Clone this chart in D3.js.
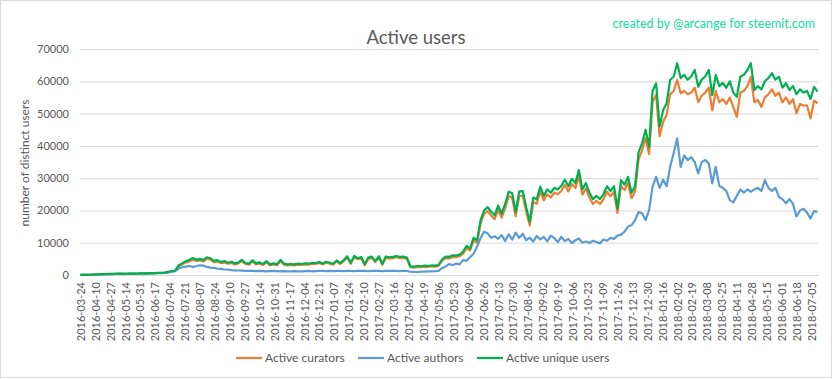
<!DOCTYPE html>
<html><head><meta charset="utf-8">
<script src="https://cdn.jsdelivr.net/npm/d3@7"></script>
<style>body{margin:0;background:#fff;} svg{display:block;font-family:Lato,"Open Sans",sans-serif;}</style>
</head><body><svg id="c" width="833" height="379"></svg>
<script>
// Daily data sampled every 4 days starting 2016-03-24
const startDate = "2016-03-24";
const stepDays = 4;
const seriesNames = ["Active curators", "Active authors", "Active unique users"];
const curators = [15,30,50,70,130,180,220,270,310,290,340,360,380,330,390,420,380,450,470,490,520,570,620,660,700,900,1100,1300,
2700,3300,3900,4200,4800,4300,4600,4200,5000,4800,4000,4200,3700,3900,3500,3700,3300,3600,4300,3400,3200,4200,3300,3600,3100,3900,3000,3300,3000,4300,3200,3000,3100,3000,3200,3100,3300,3200,3500,3400,3700,3300,3800,3500,3200,4200,3400,4300,5400,3500,5500,4900,5200,3000,5000,5300,4000,5400,3200,5300,5100,5200,5500,5200,5300,5000,
2400,2300,2500,2400,2600,2500,2700,2600,2800,
4400,5200,5100,5600,5500,5800,6600,8300,7600,10700,10000,16000,18900,19800,18400,17300,20200,17800,20700,24400,23900,18200,24400,24600,19700,15300,22600,22100,25900,23100,25000,24000,25500,25000,26000,27900,25900,28200,26900,30700,24900,26800,24000,22000,23000,22000,23400,25800,24400,25800,19200,27600,26300,28600,23800,25800,35800,38500,42500,37500,53500,55800,43000,47500,49500,56000,57000,60400,56300,57000,56000,56500,58000,53500,55500,56500,58000,51000,57000,53500,54500,53000,55000,52000,49000,56500,57000,58500,61400,53500,54200,52100,55000,56000,57500,55500,56500,53500,55000,53000,54500,50100,53000,52500,52500,48500,54000,53200];
const authors = [20,40,60,80,140,180,220,260,300,280,320,340,300,350,370,340,380,400,420,440,480,500,550,600,650,800,1000,1200,
2000,2400,2600,2800,2500,2700,3000,2900,2500,2300,2200,2000,1900,1700,1650,1500,1450,1400,1350,1300,1250,1300,1200,1250,1200,1150,1200,1250,1200,1150,1200,1100,1150,1200,1100,1150,1200,1250,1150,1200,1250,1300,1200,1250,1200,1300,1250,1200,1300,1250,1200,1300,1250,1300,1200,1250,1300,1250,1200,1300,1250,1300,1250,1200,1300,1250,
1000,950,900,1000,1050,1100,1150,1200,1300,
2100,2600,3400,3100,3500,3300,4600,4400,5500,6600,8800,11400,13400,12900,11500,12000,11200,12400,10500,12600,11000,13100,11500,12800,10800,11600,10300,12100,11000,11800,10400,12200,11400,10200,11800,10500,11200,9900,10800,11300,10000,10400,9900,10600,10200,9800,11000,10600,11500,11200,12200,12500,13400,15000,15400,17000,19500,19100,17000,20000,27400,30400,27000,29500,27500,33500,37800,42300,33500,37000,35600,36500,35000,31500,35000,35600,34500,28400,33500,27600,27000,26000,23200,22500,24500,26500,25500,26500,25800,26500,27000,26000,29400,27000,26000,27000,24200,23500,22200,23500,22000,18100,20000,20500,19300,17500,19800,19500];
const uniqueUsers = [20,40,60,80,150,200,250,300,350,320,380,400,420,380,420,450,400,480,500,520,550,600,650,700,750,950,1150,1400,
3000,3600,4300,4600,5300,4700,5000,4600,5500,5200,4400,4600,4000,4300,3800,4100,3600,3900,4700,3700,3500,4600,3600,3900,3400,4300,3300,3600,3300,4700,3500,3300,3400,3300,3500,3400,3600,3500,3800,3700,4000,3600,4100,3800,3500,4500,3700,4600,5800,3800,5900,5200,5600,3300,5400,5700,4300,5800,3500,5700,5500,5600,5900,5600,5700,5400,
2700,2600,2800,2700,2900,2800,3000,2900,3100,
4800,5700,5600,6100,6000,6300,7200,9000,8200,11500,10800,17000,20000,21000,19600,18500,21500,19000,22000,25800,25300,19500,25800,26000,21000,16500,24000,23500,27400,24500,26500,25500,27000,26500,27600,29500,27500,29800,28500,32500,26500,28500,25500,23500,24500,23500,25000,27500,26000,27500,20600,29400,28000,30400,25500,27500,38000,40800,45000,39700,57000,59400,46000,51000,53200,60400,61400,65600,61000,62000,60500,61500,63500,58300,60500,61500,63500,55700,62000,58500,59500,58000,60000,56500,55200,61400,62000,63500,65600,57300,58500,57500,60000,61000,62500,60500,61400,58000,59400,57300,58500,56000,57500,56500,57000,54500,58300,56800];
const xTickLabels = ["2016-03-24","2016-04-10","2016-04-27","2016-05-14","2016-05-31","2016-06-17","2016-07-04","2016-07-21","2016-08-07","2016-08-24","2016-09-10","2016-09-27","2016-10-14","2016-10-31","2016-11-17","2016-12-04","2016-12-21",
"2017-01-07","2017-01-24","2017-02-10","2017-02-27","2017-03-16","2017-04-02","2017-04-19","2017-05-06","2017-05-23","2017-06-09","2017-06-26","2017-07-13","2017-07-30","2017-08-16","2017-09-02","2017-09-19","2017-10-06","2017-10-23","2017-11-09","2017-11-26","2017-12-13","2017-12-30",
"2018-01-16","2018-02-02","2018-02-19","2018-03-08","2018-03-25","2018-04-11","2018-04-28","2018-05-15","2018-06-01","2018-06-18","2018-07-05"];
const yTicks = [0,10000,20000,30000,40000,50000,60000,70000];
const colors = ["#ED7D31","#5B9BD5","#00B050"];

const svg = d3.select("#c");
const parse = d3.utcParse("%Y-%m-%d");
const t0 = parse(startDate);
const n = Math.max(curators.length, authors.length, uniqueUsers.length);
const lastDate = d3.utcDay.offset(t0, (n-1)*stepDays);
const half = 12*3600*1000;

const x = d3.scaleUtc().domain([new Date(+t0 - half), new Date(+lastDate + half)]).range([80, 818]);
const y = d3.scaleLinear().domain([0, 70000]).range([275, 49]);

// border
svg.append("rect").attr("x",0.5).attr("y",0.5).attr("width",831).attr("height",377)
  .attr("fill","#fff").attr("stroke","#d9d9d9");

// grid + y axis
const yAxis = d3.axisLeft(y).tickValues(yTicks).tickSize(-738).tickPadding(11).tickFormat(d3.format("d"));
const gy = svg.append("g").attr("transform","translate(80,0)").call(yAxis);
gy.select(".domain").remove();
gy.selectAll(".tick line").attr("stroke","#d9d9d9");
gy.selectAll(".tick text").attr("fill","#595959").style("font-size","11px").style("font-family","Lato");

// x axis
const xAxis = d3.axisBottom(x).tickValues(xTickLabels.map(parse)).tickSize(0).tickFormat(d3.utcFormat("%Y-%m-%d"));
const gx = svg.append("g").attr("transform","translate(0,275)").call(xAxis);
gx.select(".domain").attr("stroke","#d9d9d9");
gx.selectAll(".tick text").attr("fill","#595959").style("font-size","11px").style("font-family","Lato")
  .attr("text-anchor","end").attr("transform","rotate(-90)").attr("x",-7).attr("y",0).attr("dy","0.35em");

// lines
const seriesData = [curators, authors, uniqueUsers];
const line = d3.line().x((d,i)=>x(d3.utcDay.offset(t0, i*stepDays))).y(d=>y(d));
seriesData.forEach((s,i)=>{
  svg.append("path").datum(s).attr("fill","none").attr("stroke",colors[i])
    .attr("stroke-width",2.2).attr("stroke-linejoin","round").attr("d",line);
});

// title
svg.append("text").attr("x",416).attr("y",44).attr("text-anchor","middle")
  .attr("fill","#595959").style("font-size","18.5px").text("Active users");
svg.append("text").attr("x",815).attr("y",28).attr("text-anchor","end")
  .attr("fill","#13dca0").style("font-size","12.5px").text("created by @arcange for steemit.com");

// y title
svg.append("text").attr("transform","translate(29,163) rotate(-90)").attr("text-anchor","middle")
  .attr("fill","#595959").style("font-size","12px").text("number of distinct users");

// legend
const legX = [236, 358, 477];
seriesNames.forEach((nm,i)=>{
  const g = svg.append("g").attr("transform",`translate(${legX[i]},358)`);
  g.append("line").attr("x1",0).attr("x2",26).attr("y1",0).attr("y2",0).attr("stroke",colors[i]).attr("stroke-width",2.2);
  g.append("text").attr("x",29).attr("y",0).attr("dy","0.35em").attr("fill","#595959").style("font-size","12px").text(nm);
});
</script></body></html>
